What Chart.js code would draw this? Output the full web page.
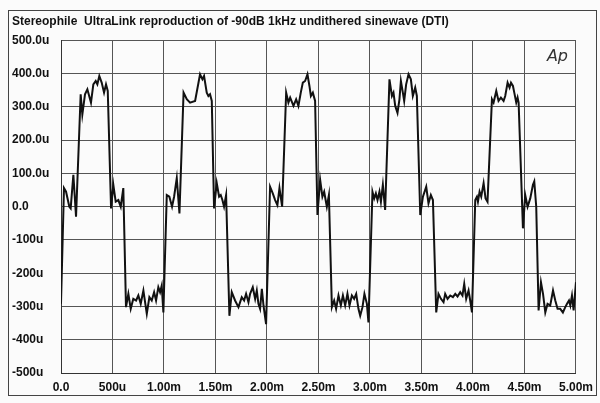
<!DOCTYPE html>
<html>
<head>
<meta charset="utf-8">
<script src="https://cdn.jsdelivr.net/npm/chart.js@4/dist/chart.umd.min.js"></script>
<style>
  html, body { margin: 0; padding: 0; background: #fbfbfb; }
  #wrap { width: 600px; height: 403px; }
</style>
</head>
<body>
<div id="wrap"><canvas id="scope"></canvas></div>
<script>
// -90dB 1kHz undithered sine (time in ms, level in microvolts)
const timeMs = [
  0.000, 0.029, 0.049, 0.081, 0.094, 0.120, 0.146, 0.191, 0.207, 0.233, 0.256, 0.291, 0.314, 0.337, 0.353, 0.372,
  0.395, 0.418, 0.437, 0.454, 0.486, 0.508, 0.531, 0.557, 0.580, 0.605, 0.631, 0.654, 0.677, 0.702, 0.729, 0.751,
  0.774, 0.800, 0.833, 0.858, 0.881, 0.904, 0.923, 0.945, 0.962, 0.978, 0.994,
  1.027, 1.052, 1.078, 1.098, 1.124, 1.150, 1.190, 1.221, 1.253, 1.302, 1.350, 1.373, 1.389, 1.415, 1.431, 1.447,
  1.464, 1.486, 1.512, 1.535, 1.551, 1.567, 1.583, 1.603, 1.635, 1.658, 1.690, 1.723, 1.755, 1.778, 1.797, 1.820,
  1.836, 1.862, 1.885, 1.901, 1.917, 1.933, 1.950, 1.966, 1.991,
  2.030, 2.056, 2.079, 2.101, 2.121, 2.147, 2.186, 2.208, 2.225, 2.257, 2.283, 2.305, 2.328, 2.348, 2.370, 2.393,
  2.412, 2.426, 2.445, 2.467, 2.490, 2.516, 2.538, 2.555, 2.581, 2.601, 2.630, 2.652, 2.671, 2.694, 2.717, 2.737,
  2.759, 2.781, 2.801, 2.824, 2.846, 2.866, 2.888, 2.905, 2.927, 2.946, 2.970, 2.985,
  3.024, 3.041, 3.057, 3.073, 3.092, 3.106, 3.125, 3.147, 3.189, 3.213, 3.228, 3.245, 3.267, 3.286, 3.300, 3.319,
  3.332, 3.351, 3.374, 3.397, 3.416, 3.439, 3.455, 3.488, 3.514, 3.546, 3.568, 3.591, 3.611, 3.643, 3.665, 3.689,
  3.714, 3.730, 3.753, 3.779, 3.805, 3.828, 3.850, 3.876, 3.898, 3.915, 3.934, 3.957, 3.973, 3.990,
  4.022, 4.038, 4.048, 4.064, 4.080, 4.103, 4.122, 4.141, 4.184, 4.200, 4.226, 4.248, 4.271, 4.297, 4.313, 4.336,
  4.355, 4.369, 4.388, 4.401, 4.420, 4.433, 4.443, 4.485, 4.507, 4.530, 4.556, 4.582, 4.595, 4.614, 4.637, 4.660,
  4.680, 4.702, 4.724, 4.750, 4.777, 4.799, 4.821, 4.847, 4.873, 4.896, 4.913, 4.932, 4.945, 4.961, 4.977, 5.000
];
const levelUv = [
  -292, 56, 45, 0, -5, 96, -30, 338, 277, 338, 353, 313, 368, 378, 368, 393,
  373, 343, 368, 348, -5, 66, 15, 20, 0, 56, -302, -262, -307, -277, -282, -267,
  -292, -252, -322, -272, -282, -257, -282, -242, -257, -237, -318,
  35, 30, 0, 30, 86, -20, 343, 323, 313, 318, 398, 383, 393, 343, 333, 338,
  318, -5, 71, 30, 35, 20, 0, 35, -328, -257, -282, -302, -272, -282, -262, -287,
  -262, -242, -277, -252, -292, -307, -247, -297, -353,
  60, 40, 20, 5, 56, 0, 343, 313, 328, 303, 323, 303, 343, 373, 378, 398,
  363, 333, 343, 318, -25, 81, 30, 45, 0, 35, -302, -282, -307, -267, -297, -267,
  -297, -262, -297, -267, -277, -262, -307, -328, -302, -262, -292, -348,
  45, 25, 40, 20, 45, 15, 66, -10, 383, 333, 343, 303, 282, 323, 378, 343,
  318, 368, 398, 383, 333, 358, 333, -25, 30, 60, 10, 35, 20, -318, -262, -277,
  -287, -262, -277, -267, -272, -262, -270, -257, -267, -232, -277, -252, -282, -318,
  20, 30, 15, 45, 30, 71, 25, 15, 323, 313, 348, 318, 328, 318, 333, 373,
  358, 373, 363, 343, 313, 328, 313, -65, 35, 0, 25, 66, 76, 0, -312, -227,
  -262, -318, -292, -297, -252, -282, -307, -307, -318, -302, -292, -282, -297, -267, -312, -227
];

const xTickLabels = ['0.0', '500u', '1.00m', '1.50m', '2.00m', '2.50m', '3.00m', '3.50m', '4.00m', '4.50m', '5.00m'];
const yTickLabels = ['-500u', '-400u', '-300u', '-200u', '-100u', '0.0', '100.0u', '200.0u', '300.0u', '400.0u', '500.0u'];

const points = timeMs.map((t, i) => ({ x: t, y: levelUv[i] }));
const labelFont = { family: 'Liberation Sans, Arial, sans-serif', size: 12, weight: 'bold' };

// outer frame + AP logo
const decor = {
  id: 'decor',
  beforeDraw(chart) {
    const c = chart.ctx;
    c.save();
    c.fillStyle = '#fbfbfb';
    c.fillRect(0, 0, chart.width, chart.height);
    c.strokeStyle = '#444';
    c.lineWidth = 1;
    c.strokeRect(8.5, 10.5, 588, 385);
    c.restore();
  },
  afterDraw(chart) {
    const c = chart.ctx, a = chart.chartArea;
    c.save();
    c.fillStyle = '#333';
    c.font = 'italic 16px "DejaVu Sans", sans-serif';
    c.textAlign = 'right';
    c.textBaseline = 'middle';
    c.fillText('Ap', a.right - 8, a.top + 16);
    c.restore();
  }
};

new Chart(document.getElementById('scope'), {
  type: 'scatter',
  data: {
    datasets: [{
      data: points,
      showLine: true,
      borderColor: '#111',
      borderWidth: 2,
      pointRadius: 0,
      tension: 0
    }]
  },
  options: {
    responsive: true,
    maintainAspectRatio: false,
    animation: false,
    layout: { padding: { left: 12, right: 18, top: 14, bottom: 4 } },
    plugins: {
      legend: { display: false },
      tooltip: { enabled: false },
      title: {
        display: true,
        text: 'Stereophile  UltraLink reproduction of -90dB 1kHz undithered sinewave (DTI)',
        align: 'start',
        color: '#111',
        font: labelFont,
        padding: { top: 0, bottom: 12 }
      }
    },
    scales: {
      x: {
        type: 'linear',
        min: 0, max: 5,
        ticks: {
          stepSize: 0.5,
          color: '#111',
          font: labelFont,
          padding: 7,
          maxRotation: 0,
          callback: (v) => xTickLabels[Math.round(v / 0.5)]
        },
        grid: { color: '#555', lineWidth: 1, drawTicks: false },
        border: { color: '#333', width: 1 },
        afterFit(s) { s.height = 26; }
      },
      y: {
        min: -500, max: 500,
        ticks: {
          stepSize: 100,
          color: '#111',
          font: labelFont,
          crossAlign: 'far',
          callback: (v) => yTickLabels[Math.round((v + 500) / 100)]
        },
        grid: { color: '#555', lineWidth: 1, drawTicks: false },
        border: { color: '#333', width: 1 },
        afterFit(s) { s.width = 49; }
      }
    }
  },
  plugins: [decor]
});
</script>
</body>
</html>
